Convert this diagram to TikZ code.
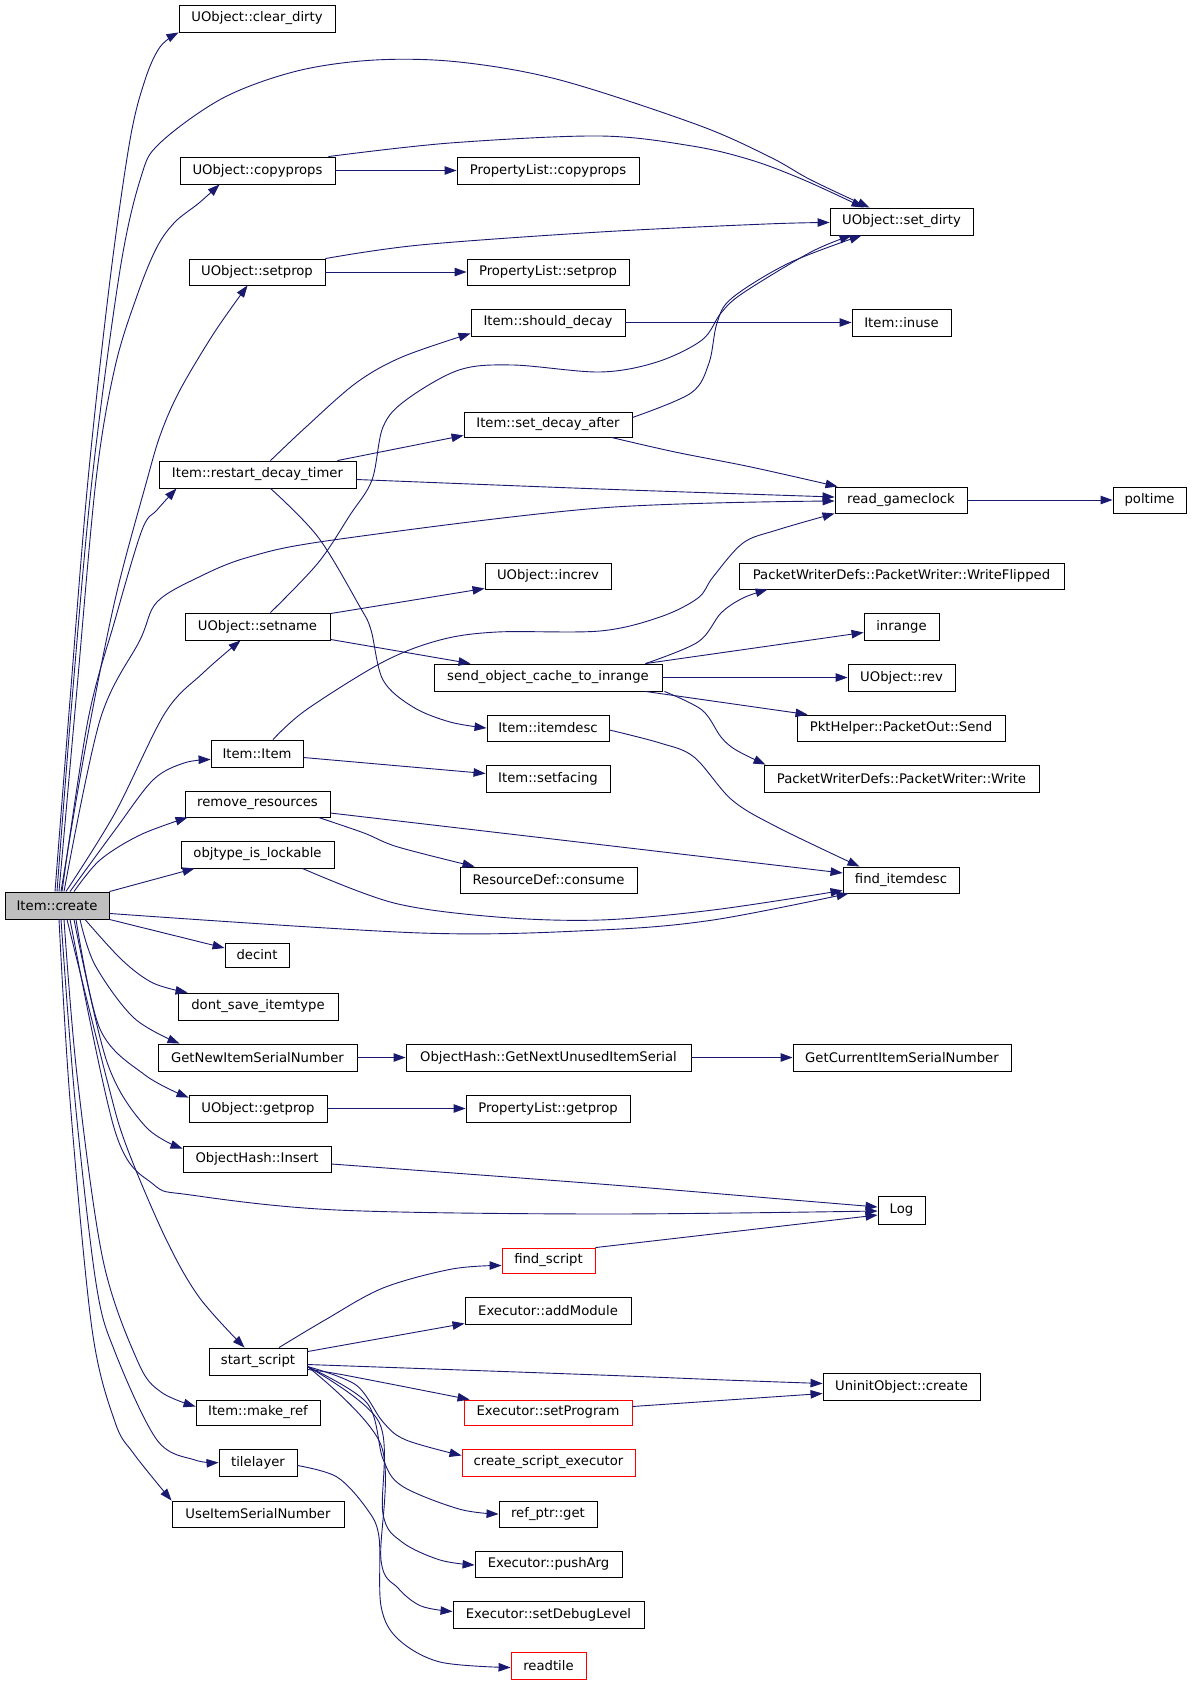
\documentclass[tikz,border=0pt]{standalone}
\usepackage{fontspec}
\setmainfont{DejaVu Sans}
\usetikzlibrary{arrows.meta,calc}
\definecolor{lnk}{HTML}{191970}
\newcommand\mkbox[7]{%
  \pgfmathsetmacro\mkw{#5-#3}%
  \pgfmathsetmacro\mkh{#6-#4}%
  \pgfmathsetmacro\mkx{(#3+#5)/2}%
  \pgfmathsetmacro\mky{(#4+#6)/2}%
  \node[box,#1,minimum width=\mkw pt,minimum height=\mkh pt] (#2) at (\mkx,\mky) {#7};}
\newcommand\cv[1]{\draw[conn] plot[smooth,tension=0.55] coordinates {#1};}
\begin{document}
\begin{tikzpicture}[x=1pt,y=-1pt,
  box/.style={draw=black,line width=0.9pt,fill=white,inner sep=0pt,font=\fontsize{13.2}{15}\selectfont},
  redbox/.style={draw=red},
  root/.style={fill=black!25},
  conn/.style={draw=lnk,line width=0.9pt,-{Triangle[length=12pt,width=8.5pt]}}]
\fill[white] (0,0) rectangle (1192,1684);
\useasboundingbox (0,0) rectangle (1192,1684);

\mkbox{root}{C}{5}{892}{109}{919}{Item::create}
\mkbox{}{cd}{179}{5}{335}{32}{UObject::clear\_dirty}
\mkbox{}{sd}{830}{208}{973}{235}{UObject::set\_dirty}
\mkbox{}{ucp}{180}{157}{335}{184}{UObject::copyprops}
\mkbox{}{pcp}{457}{157}{639}{184}{PropertyList::copyprops}
\mkbox{}{usp}{189}{259}{325}{285}{UObject::setprop}
\mkbox{}{psp}{467}{259}{629}{285}{PropertyList::setprop}
\mkbox{}{shd}{471}{309}{625}{336}{Item::should\_decay}
\mkbox{}{inuse}{852}{309}{951}{336}{Item::inuse}
\mkbox{}{sda}{464}{412}{632}{437}{Item::set\_decay\_after}
\mkbox{}{rdt}{159}{461}{356}{488}{Item::restart\_decay\_timer}
\mkbox{}{rgc}{835}{487}{967}{513}{read\_gameclock}
\mkbox{}{pol}{1113}{487}{1186}{513}{poltime}
\mkbox{}{inc}{485}{563}{611}{589}{UObject::increv}
\mkbox{}{wfl}{739}{563}{1064}{589}{PacketWriterDefs::PacketWriter::WriteFlipped}
\mkbox{}{sn}{185}{613}{330}{640}{UObject::setname}
\mkbox{}{inr}{864}{613}{939}{640}{inrange}
\mkbox{}{soc}{434}{664}{662}{691}{send\_object\_cache\_to\_inrange}
\mkbox{}{rev}{848}{664}{955}{691}{UObject::rev}
\mkbox{}{idesc}{487}{715}{609}{741}{Item::itemdesc}
\mkbox{}{send}{797}{715}{1005}{741}{PktHelper::PacketOut::Send}
\mkbox{}{ii}{211}{740}{303}{767}{Item::Item}
\mkbox{}{sf}{486}{765}{610}{792}{Item::setfacing}
\mkbox{}{pww}{764}{765}{1039}{792}{PacketWriterDefs::PacketWriter::Write}
\mkbox{}{rr}{185}{791}{330}{817}{remove\_resources}
\mkbox{}{otl}{181}{841}{334}{868}{objtype\_is\_lockable}
\mkbox{}{cons}{460}{867}{637}{893}{ResourceDef::consume}
\mkbox{}{fid}{843}{867}{959}{893}{find\_itemdesc}
\mkbox{}{dec}{225}{943}{289}{967}{decint}
\mkbox{}{dsi}{178}{993}{338}{1020}{dont\_save\_itemtype}
\mkbox{}{gni}{158}{1044}{357}{1071}{GetNewItemSerialNumber}
\mkbox{}{gnu}{406}{1044}{691}{1071}{ObjectHash::GetNextUnusedItemSerial}
\mkbox{}{gci}{793}{1044}{1011}{1071}{GetCurrentItemSerialNumber}
\mkbox{}{ugp}{189}{1095}{327}{1122}{UObject::getprop}
\mkbox{}{pgp}{466}{1095}{630}{1122}{PropertyList::getprop}
\mkbox{}{ohi}{183}{1146}{331}{1172}{ObjectHash::Insert}
\mkbox{}{log}{878}{1196}{925}{1224}{Log}
\mkbox{redbox}{fs}{502}{1248}{595}{1273}{find\_script}
\mkbox{}{eam}{465}{1297}{631}{1324}{Executor::addModule}
\mkbox{}{ss}{209}{1348}{307}{1375}{start\_script}
\mkbox{}{uoc}{823}{1373}{980}{1400}{UninitObject::create}
\mkbox{redbox}{esp}{464}{1400}{632}{1425}{Executor::setProgram}
\mkbox{}{imr}{196}{1400}{320}{1425}{Item::make\_ref}
\mkbox{redbox}{cse}{462}{1449}{635}{1476}{create\_script\_executor}
\mkbox{}{tl}{219}{1449}{297}{1476}{tilelayer}
\mkbox{}{uis}{172}{1501}{344}{1527}{UseItemSerialNumber}
\mkbox{}{rpg}{499}{1501}{597}{1527}{ref\_ptr::get}
\mkbox{}{epa}{475}{1551}{622}{1577}{Executor::pushArg}
\mkbox{}{edl}{453}{1601}{644}{1628}{Executor::setDebugLevel}
\mkbox{redbox}{rt}{511}{1652}{586}{1679}{readtile}

% edges from Item::create, upward
\cv{($(C.north)+(-2,0)$) (70,700) (88,480) (110,280) (130,140) (145,80) (160,47) (cd.south west)}
\cv{(C.north) (72,700) (92,480) (120,270) (141,177) (160,143) (223,98) (297,71) (375,60) (459,62) (560,80) (698,125) (770,157) (811,180) ($(sd.north west)+(40,0)$)}
\cv{($(C.north)+(2,0)$) (76,700) (96,480) (115,367) (138,293) (157,247) (175,222) (199,203) ($(ucp.south west)+(40,0)$)}
\cv{($(C.north)+(4,0)$) (85,750) (115,600) (147,480) (161,433) (180,390) (214,333) ($(usp.south west)+(59,0)$)}
\cv{($(C.north)+(5,0)$) (88,720) (115,620) (142,530) (157,510) ($(rdt.south west)+(18,0)$)}
\cv{($(C.north)+(7,0)$) (100,720) (140,640) (157,602) (199,577) (249,557) (333,540) (600,508) ($(rgc.west)+(0,1)$)}
\cv{($(C.north)+(9,0)$) (115,813) (165,713) (203,673) ($(sn.south west)+(56,0)$)}
\cv{($(C.north)+(13,0)$) (115,830) (153,780) (184,763) ($(ii.west)+(0,6)$)}
\cv{($(C.north)+(17,0)$) (100,860) (140,835) ($(rr.south west)+(3,0)$)}
\draw[conn] (C.north east) -- ($(otl.south west)+(14,0)$);
\cv{($(C.south east)+(0,-6)$) (421,933) (600,930) (713,920) ($(fid.south west)+(6,0)$)}
\draw[conn] (C.south east) -- ($(dec.west)+(0,-7)$);

% upper subgraph
\cv{($(ucp.north east)+(-7,0)$) (450,143) (600,136) (692,146) (751,160) (804,180) ($(sd.north west)+(34,0)$)}
\draw[conn] (ucp) -- (pcp);
\cv{(usp.north east) (420,245) (600,232) (766,224) ($(sd.west)+(0,1)$)}
\draw[conn] (usp) -- (psp);
\cv{($(rdt.north)+(13,0)$) (306,427) (356,383) (402,357) ($(shd.south west)+(0,-3)$)}
\draw[conn] (shd) -- (inuse);
\cv{($(sn.north)+(13,0)$) (318,563) (350,515) (372,480) (383,427) (406,400) (459,370) (513,365) (600,372) (657,362) (702,340) (721,313) (743,293) (811,252) ($(sd.south west)+(22,0)$)}
\cv{($(sda.east)+(0,-7)$) (691,393) (709,363) (717,323) (732,298) (789,263) ($(sd.south west)+(32,0)$)}
\cv{($(sda.south east)+(-21,0)$) (675,452) (751,467) ($(rgc.north west)+(3,0)$)}
\draw[conn] ($(rdt.north east)+(-19,0)$) -- ($(sda.south west)+(0,-2)$);
\cv{($(rdt.east)+(0,5)$) (600,489) ($(rgc.west)+(0,-3)$)}
\cv{($(ii.north)+(16,0)$) (306,710) (383,662) (440,640) (497,632) (600,631) (660,617) (698,598) (713,577) (743,543) (777,530) (rgc.south west)}
\draw[conn] (rgc) -- (pol);
\cv{($(rdt.south)+(13,0)$) (318,537) (360,607) (371,630) (383,680) (413,707) (450,722) (idesc.west)}
\draw[conn] ($(sn.north east)+(0,1)$) -- ($(inc.south west)+(0,-1)$);
\draw[conn] ($(sn.south east)+(0,-1)$) -- ($(soc.north west)+(37,0)$);
\cv{($(soc.north east)+(-17,0)$) (698,642) (721,613) (743,598) ($(wfl.south west)+(29,0)$)}
\draw[conn] ($(soc.north east)+(-17,0)$) -- ($(inr.west)+(0,6)$);
\draw[conn] (soc) -- (rev);
\draw[conn] ($(soc.south east)+(-17,0)$) -- ($(send.north west)+(11,0)$);
\cv{($(soc.south east)+(2,0)$) (702,710) (721,737) (736,750) ($(pww.north west)+(2,0)$)}
\cv{($(idesc.east)+(0,2)$) (660,743) (694,757) (732,800) (777,827) ($(fid.north west)+(17,0)$)}
\draw[conn] ($(ii.east)+(0,4)$) -- ($(sf.west)+(0,-5)$);
\draw[conn] ($(rr.east)+(0,9)$) -- ($(fid.west)+(0,-7)$);
\cv{($(rr.south east)+(-12,0)$) (364,833) (398,847) ($(cons.north west)+(15,0)$)}
\cv{($(otl.south east)+(-32,0)$) (394,903) (497,917) (600,920) (713,910) ($(fid.south west)+(0,-3)$)}

% edges from Item::create, downward
\cv{($(C.south)+(28,0)$) (122,960) (153,983) ($(dsi.north west)+(10,0)$)}
\cv{($(C.south)+(23,0)$) (95,965) (134,1018) ($(gni.north west)+(22,0)$)}
\draw[conn] (gni) -- (gnu);
\draw[conn] (gnu) -- (gci);
\cv{($(C.south)+(19,0)$) (100,1029) (145,1075) ($(ugp.north west)+(0,3)$)}
\draw[conn] (ugp) -- (pgp);
\cv{($(C.south)+(17,0)$) (107,1062) (145,1126) ($(ohi.north west)+(0,3)$)}
\cv{($(C.south)+(13,0)$) (115,1131) (153,1184) (191,1195) (337,1210) (600,1214) ($(log.west)+(0,1)$)}
\cv{($(ohi.east)+(0,5)$) (600,1184) (781,1199) ($(log.west)+(0,-3)$)}
\draw[conn] (fs.north east) -- ($(log.west)+(0,5)$);
\cv{($(C.south)+(10,0)$) (107,1080) (126,1145) (165,1237) (199,1297) ($(ss.north west)+(36,0)$)}
\cv{($(C.south)+(7,0)$) (77,1075) (103,1260) (138,1362) (161,1392) ($(imr.west)+(0,-6)$)}
\cv{($(C.south)+(4,0)$) (75,1100) (96,1283) (115,1352) (157,1440) (195,1460) (tl.west)}
\cv{($(C.south)+(2,0)$) (70,1100) (92,1329) (115,1422) (134,1454) (uis.north west)}

% start_script
\cv{($(ss.north)+(21,0)$) (325,1320) (383,1288) (452,1269) ($(fs.west)+(0,5)$)}
\draw[conn] ($(ss.north east)+(0,4)$) -- ($(eam.south west)+(0,-1)$);
\cv{($(ss.east)+(0,3)$) (600,1375) (725,1380) ($(uoc.west)+(0,-3)$)}
\draw[conn] ($(esp.east)+(0,-6)$) -- ($(uoc.west)+(0,7)$);
\cv{($(ss.east)+(0,8)$) (344,1375) ($(esp.north west)+(6,0)$)}
\cv{($(ss.east)+(0,5)$) (356,1385) (383,1422) (406,1440) ($(cse.west)+(0,-7)$)}
\cv{($(ss.east)+(0,5)$) (367,1403) (383,1459) (402,1486) (459,1509) (rpg.west)}
\cv{($(ss.east)+(0,5)$) (379,1422) (383,1514) (402,1542) (440,1560) ($(epa.west)+(0,1)$)}
\cv{($(ss.east)+(0,5)$) (381,1445) (381,1560) (398,1588) (421,1606) ($(edl.west)+(0,-3)$)}
\cv{($(tl.east)+(0,3)$) (337,1477) (367,1509) (379,1537) (381,1606) (398,1639) (440,1662) ($(rt.west)+(0,2)$)}
\end{tikzpicture}
\end{document}
